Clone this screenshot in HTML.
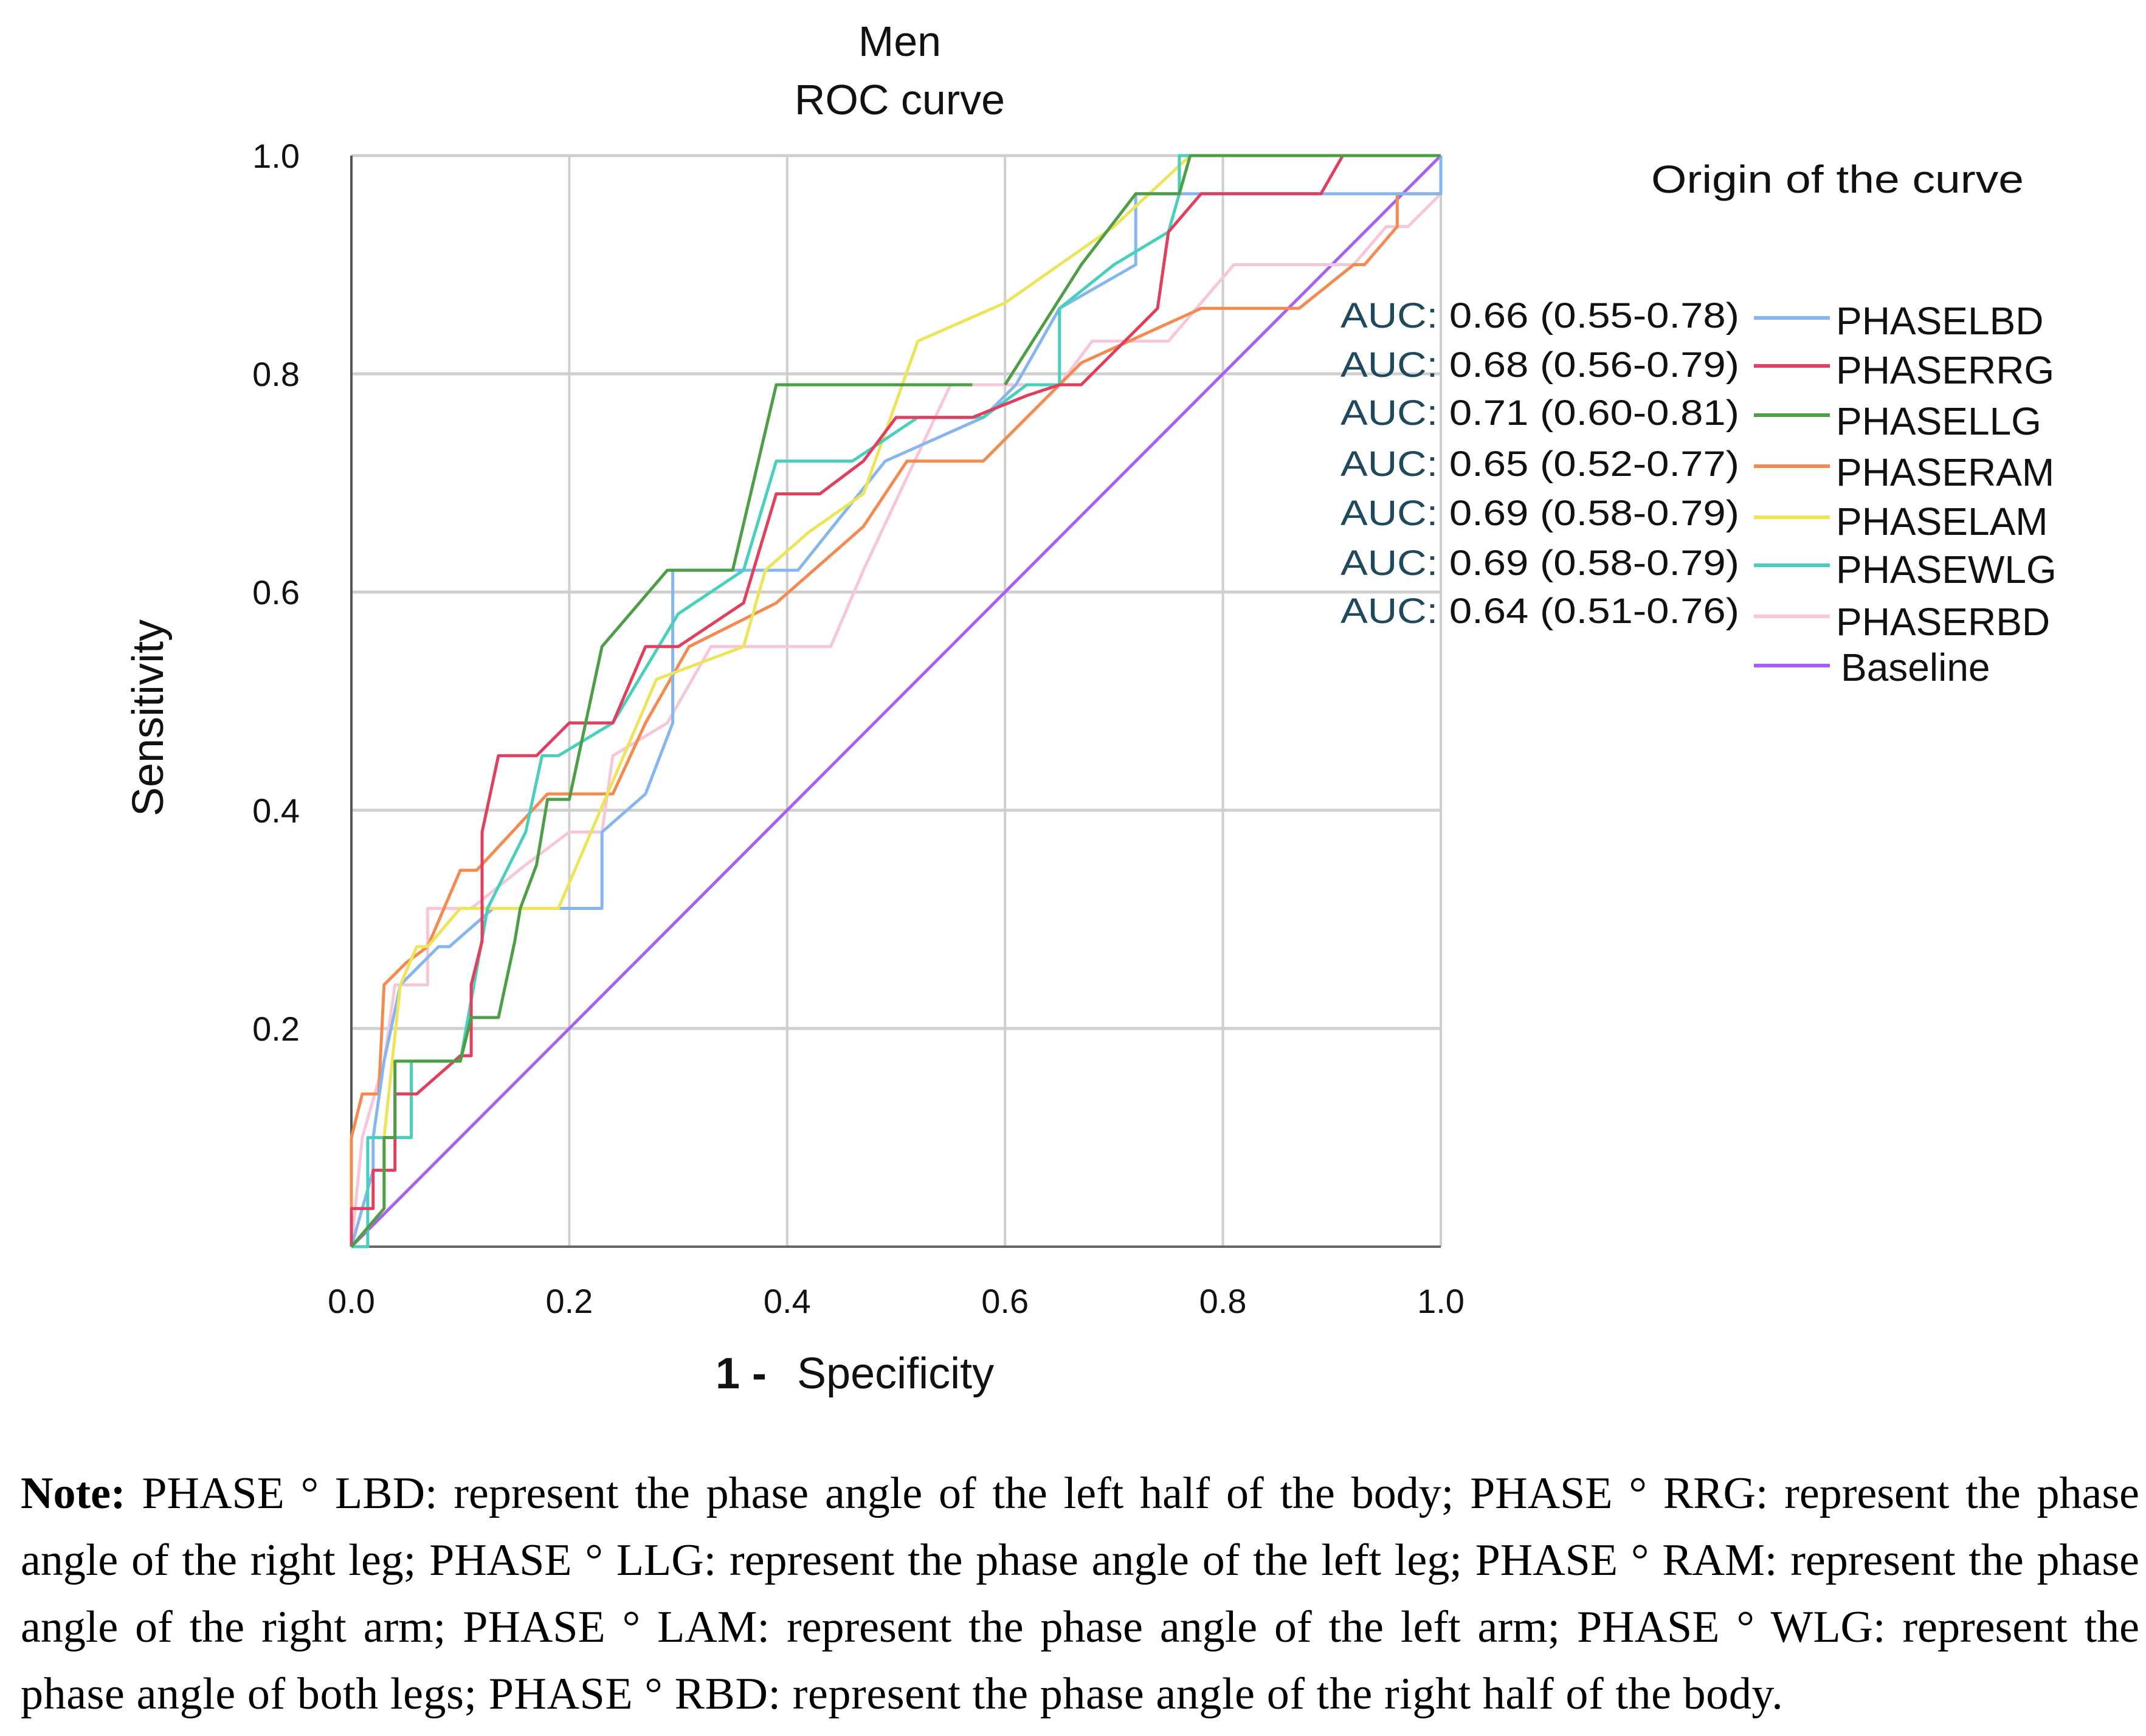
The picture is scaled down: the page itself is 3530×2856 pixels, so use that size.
<!DOCTYPE html>
<html><head><meta charset="utf-8">
<style>
html,body{margin:0;padding:0;background:#fff;width:3530px;height:2856px;overflow:hidden;}
#chart{position:absolute;left:0;top:0;}
.note{position:absolute;left:34px;width:3485px;font-family:"Liberation Serif",serif;font-size:74px;color:#000;line-height:110px;}
.note div{text-align:justify;text-align-last:justify;white-space:nowrap;height:110px;}
.note div.last{text-align-last:left;letter-spacing:0.6px;}
</style></head>
<body>
<svg id="chart" width="3530" height="2400" viewBox="0 0 3530 2400" xmlns="http://www.w3.org/2000/svg" font-family="Liberation Sans, sans-serif">
  <text x="1480" y="92" font-size="70" text-anchor="middle" fill="#111">Men</text>
  <text x="1480" y="188" font-size="70" text-anchor="middle" fill="#111">ROC curve</text>
  <g id="grid"></g>
  <g id="series"></g>
  <g id="ticks"></g>
  <text x="0" y="0" font-size="72" text-anchor="middle" fill="#111" transform="translate(268,1181) rotate(-90)">Sensitivity</text>
  <text x="1177" y="2284" font-size="72" fill="#111"><tspan font-weight="bold">1 - </tspan><tspan dx="30">Specificity</tspan></text>
  <text x="2716" y="317" font-size="64" fill="#111" textLength="613" lengthAdjust="spacingAndGlyphs">Origin of the curve</text>
  <g id="legend"></g>
</svg>
<div class="note" style="top:2402px">
<div><b>Note:</b> PHASE ° LBD: represent the phase angle of the left half of the body; PHASE ° RRG: represent the phase</div>
<div>angle of the right leg; PHASE ° LLG: represent the phase angle of the left leg; PHASE ° RAM: represent the phase</div>
<div>angle of the right arm; PHASE ° LAM: represent the phase angle of the left arm; PHASE ° WLG: represent the</div>
<div class="last">phase angle of both legs; PHASE ° RBD: represent the phase angle of the right half of the body.</div>
</div>
<script>
const seriesNames = ["PHASELBD","PHASERRG","PHASELLG","PHASERAM","PHASELAM","PHASEWLG","PHASERBD","Baseline"];
const aucLabels = ["0.66 (0.55-0.78)","0.68 (0.56-0.79)","0.71 (0.60-0.81)","0.65 (0.52-0.77)","0.69 (0.58-0.79)","0.69 (0.58-0.79)","0.64 (0.51-0.76)"];
const xTicks = [0,0.2,0.4,0.6,0.8,1.0];
const yTicks = [0.2,0.4,0.6,0.8,1.0];
const xTickLabels = ["0.0","0.2","0.4","0.6","0.8","1.0"];
const yTickLabels = ["0.2","0.4","0.6","0.8","1.0"];
const lbdX = [0,0.02,0.02,0.03,0.045,0.08,0.09,0.13,0.23,0.23,0.27,0.295,0.295,0.41,0.49,0.58,0.61,0.65,0.72,0.72,1.0,1.0];
const lbdY = [0,0.07,0.1,0.17,0.24,0.275,0.275,0.31,0.31,0.38,0.415,0.48,0.62,0.62,0.72,0.76,0.79,0.86,0.9,0.965,0.965,1.0];
const rrgX = [0,0,0.02,0.02,0.04,0.04,0.06,0.1,0.11,0.11,0.12,0.12,0.135,0.17,0.2,0.24,0.27,0.3,0.36,0.39,0.43,0.47,0.5,0.57,0.62,0.65,0.67,0.7,0.74,0.75,0.78,0.89,0.91,1.0];
const rrgY = [0,0.035,0.035,0.07,0.07,0.14,0.14,0.175,0.175,0.24,0.28,0.38,0.45,0.45,0.48,0.48,0.55,0.55,0.59,0.69,0.69,0.72,0.76,0.76,0.78,0.79,0.79,0.82,0.86,0.93,0.965,0.965,1.0,1.0];
const llgX = [0,0.03,0.03,0.04,0.04,0.1,0.11,0.135,0.15,0.155,0.17,0.18,0.2,0.23,0.29,0.35,0.39,0.57,null,0.6,0.67,0.72,0.76,0.77,1.0];
const llgY = [0,0.035,0.1,0.1,0.17,0.17,0.21,0.21,0.28,0.31,0.35,0.41,0.41,0.55,0.62,0.62,0.79,0.79,null,0.79,0.9,0.965,0.965,1.0,1.0];
const ramX = [0,0,0.01,0.025,0.03,0.05,0.07,0.1,0.115,0.18,0.24,0.27,0.31,0.39,0.47,0.51,0.58,0.62,0.67,0.78,0.87,0.92,0.93,0.96,0.96,1.0,1.0];
const ramY = [0,0.1,0.14,0.14,0.24,0.26,0.275,0.345,0.345,0.415,0.415,0.48,0.55,0.59,0.66,0.72,0.72,0.76,0.81,0.86,0.86,0.9,0.9,0.935,0.965,0.965,1.0];
const lamX = [0,0.03,0.03,0.045,0.06,0.07,0.1,0.19,0.25,0.28,0.36,0.38,0.42,0.47,0.52,0.6,0.7,0.77,1.0];
const lamY = [0,0.035,0.1,0.24,0.275,0.275,0.31,0.31,0.45,0.52,0.55,0.62,0.655,0.69,0.83,0.865,0.935,1.0,1.0];
const wlgX = [0,0.015,0.015,0.055,0.055,0.1,0.125,0.16,0.175,0.19,0.24,0.3,0.36,0.39,0.46,0.52,0.58,0.62,0.65,0.65,0.7,0.75,0.76,0.76,1.0];
const wlgY = [0,0,0.1,0.1,0.17,0.17,0.31,0.38,0.45,0.45,0.48,0.58,0.62,0.72,0.72,0.76,0.76,0.79,0.79,0.86,0.9,0.93,0.965,1.0,1.0];
const rbdX = [0,0.01,0.03,0.04,0.07,0.07,0.11,0.16,0.2,0.23,0.24,0.29,0.33,0.44,0.47,0.55,0.65,0.68,0.75,0.81,0.92,0.95,0.97,1.0,1.0];
const rbdY = [0,0.1,0.17,0.24,0.24,0.31,0.31,0.35,0.38,0.38,0.45,0.48,0.55,0.55,0.62,0.79,0.79,0.83,0.83,0.9,0.9,0.935,0.935,0.965,1.0];
const baseX = [0,1];
const baseY = [0,1];
const colors = ["#86b6f0","#e0405e","#4e9e48","#f58a50","#ece55a","#48d0bc","#f8c6da","#a860f2"];

const NS = "http://www.w3.org/2000/svg";
const X0 = 578, X1 = 2370, Y0 = 2051, Y1 = 256;
function sx(v){ return X0 + v*(X1-X0); }
function sy(v){ return Y0 - v*(Y0-Y1); }
function mk(tag, attrs, parent){ const e=document.createElementNS(NS,tag); for(const k in attrs) e.setAttribute(k,attrs[k]); parent.appendChild(e); return e; }

const grid = document.getElementById('grid');
yTicks.forEach(function(t){
  const l = mk('line',{x1:X0,x2:X1,y1:sy(t),y2:sy(t),stroke:'#cfcfcf','stroke-width':5},grid);
  
  
});
xTicks.forEach(function(t){
  if(t===0) return;
  const l = mk('line',{x1:sx(t),x2:sx(t),y1:Y1,y2:Y0,stroke:'#cfcfcf','stroke-width':4},grid);
  
  
});
const ya = mk('line',{x1:X0,x2:X0,y1:Y1,y2:Y0,stroke:'#555','stroke-width':4},grid);


const xa = mk('line',{x1:X0,x2:X1,y1:Y0,y2:Y0,stroke:'#666','stroke-width':4},grid);



const ticks = document.getElementById('ticks');
xTicks.forEach(function(t,i){
  const tx = mk('text',{x:sx(t),y:2160,'font-size':56,'text-anchor':'middle',fill:'#111'},ticks);
  tx.textContent = xTickLabels[i];
  
  
});
yTicks.forEach(function(t,i){
  const tx = mk('text',{x:493,y:sy(t)+20,'font-size':56,'text-anchor':'end',fill:'#111'},ticks);
  tx.textContent = yTickLabels[i];
  
  
});

const sData = [[lbdX,lbdY],[rrgX,rrgY],[llgX,llgY],[ramX,ramY],[lamX,lamY],[wlgX,wlgY],[rbdX,rbdY],[baseX,baseY]];
const order = [7,6,3,0,4,5,1,2];
const sg = document.getElementById('series');
order.forEach(function(i){
  const xs = sData[i][0], ys = sData[i][1];
  let d = '', pen = 'M';
  for(let k=0;k<xs.length;k++){
    if(xs[k]===null){ pen='M'; continue; }
    d += pen + sx(xs[k]).toFixed(1) + ',' + sy(ys[k]).toFixed(1) + ' ';
    pen = 'L';
  }
  const p = mk('path',{d:d,fill:'none',stroke:colors[i],'stroke-width':5,'stroke-linejoin':'round'},sg);
  
  
});

const lg = document.getElementById('legend');
const aucY = [539,620,699,783,864,946,1025];
const nameY = [550,631,715,799,880,959,1045,1120];
const lineY = [523,602,683,767,851,930,1014,1095];
seriesNames.forEach(function(n,i){
  if(i<aucLabels.length){
    const t = mk('text',{x:2205,y:aucY[i],'font-size':58,fill:'#111',textLength:656,lengthAdjust:'spacingAndGlyphs'},lg);
    t.innerHTML = '<tspan fill="#1f4a5e">AUC:</tspan> ' + aucLabels[i];
    
    
  }
  const l = mk('line',{x1:2885,x2:3010,y1:lineY[i],y2:lineY[i],stroke:colors[i],'stroke-width':6},lg);
  
  
  const t2 = mk('text',{x:(n==='Baseline'?3028:3020),y:nameY[i],'font-size':64,fill:'#111'},lg);
  t2.textContent = n;
  
  
});
</script>
</body></html>
